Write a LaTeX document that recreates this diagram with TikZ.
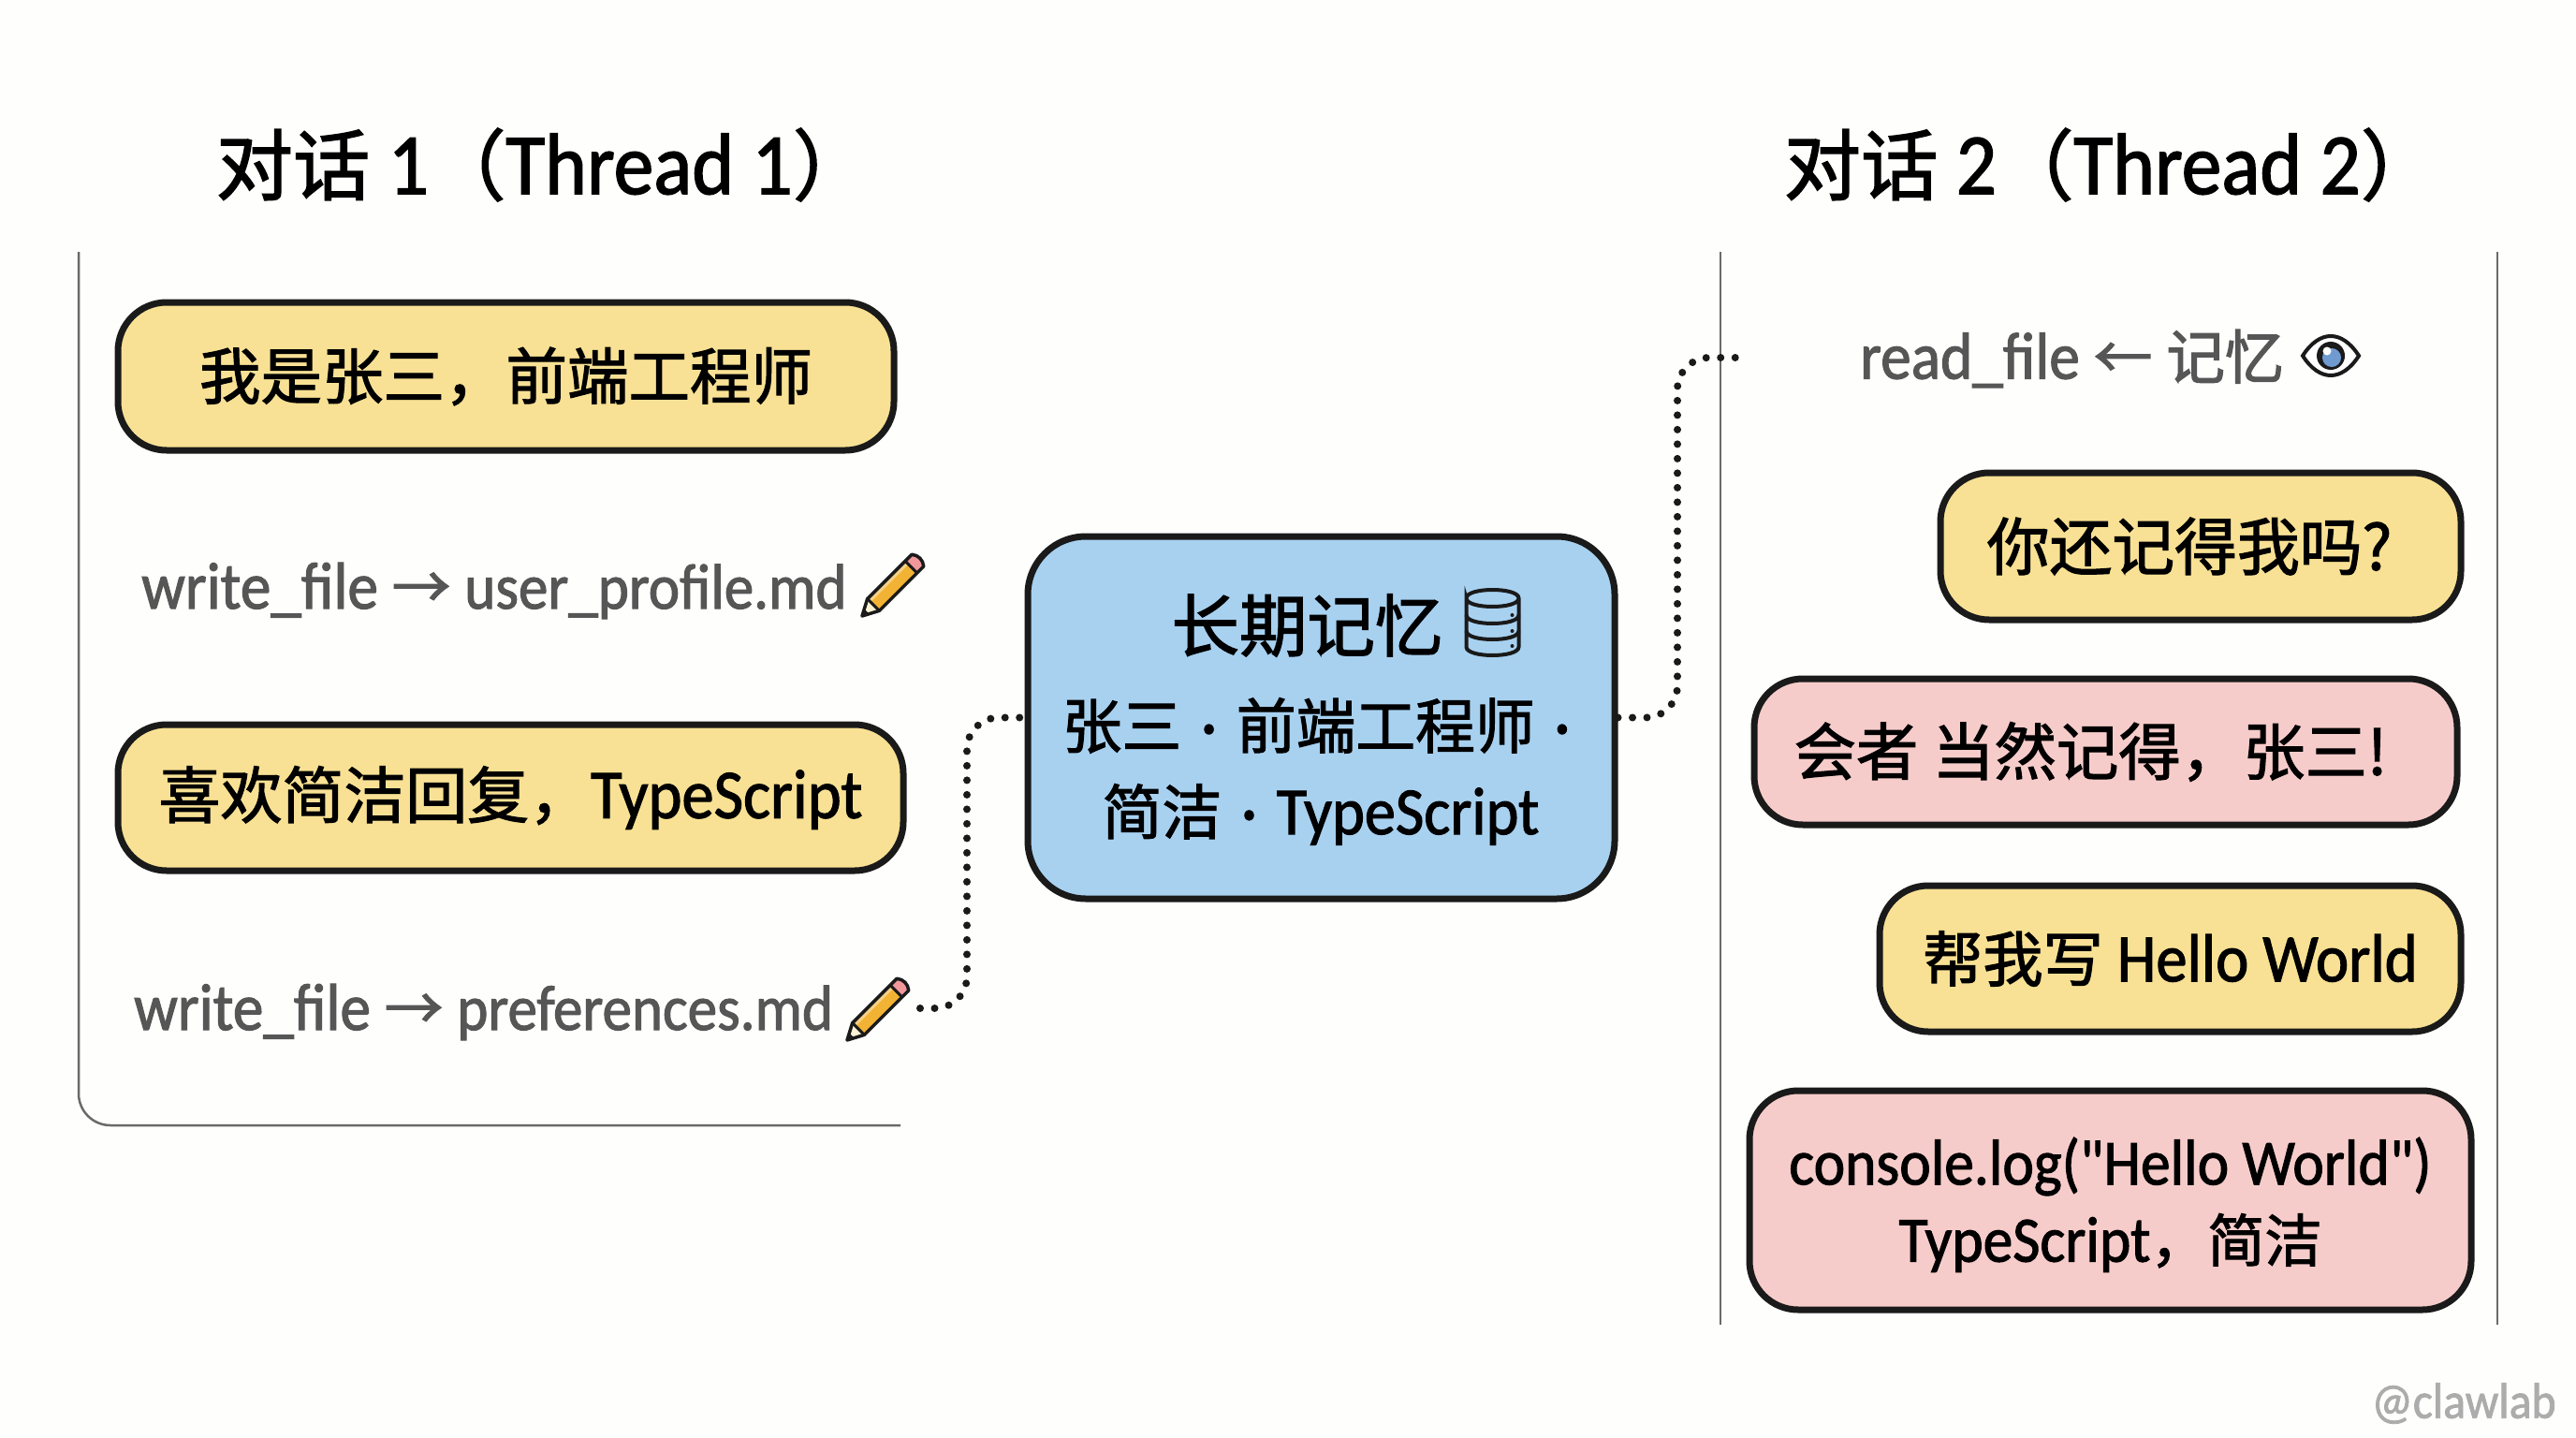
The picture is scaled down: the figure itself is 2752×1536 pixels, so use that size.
\documentclass[tikz,border=0pt]{standalone}
\usepackage{fontspec}
\setmainfont[FakeBold=1.5, FakeStretch=0.92]{Carlito}
\newfontfamily\codefont[FakeBold=1.5, FakeStretch=0.92]{Carlito}
\newfontfamily\cjk[FakeBold=1.8, Scale=0.885]{Noto Sans CJK SC}
\usetikzlibrary{positioning}
\usetikzlibrary{calc}
\definecolor{pagebg}{HTML}{FEFEFD}
\definecolor{inkblack}{HTML}{1A1A1A}
\definecolor{usergold}{HTML}{F8E194}
\definecolor{replypink}{HTML}{F6CCCA}
\definecolor{memoryblue}{HTML}{A8D1F0}
\definecolor{toolgray}{HTML}{565656}
\definecolor{panelgray}{HTML}{6A6A6A}
\definecolor{irisblue}{HTML}{6F9BD1}
\definecolor{penbody}{HTML}{F2B233}
\definecolor{penrubber}{HTML}{F2989C}
\newcommand{\zh}[1]{{\cjk #1}}
\newcommand{\fsize}[1]{\fontsize{#1}{#1}\selectfont}
\newcommand{\dotsep}{\hspace{21pt}·\hspace{21pt}}
\tikzset{
    bubble/.style={draw=inkblack, line width=7pt, rounded corners=52pt, inner sep=0pt, align=center, text=black},
    usermsg/.style={bubble, fill=usergold},
    replymsg/.style={bubble, fill=replypink},
    toolcall/.style={inner sep=0pt, text=toolgray},
    titlelabel/.style={inner sep=0pt, text=black},
    panelline/.style={draw=panelgray, line width=2.5pt},
    dotlink/.style={draw=inkblack, line width=8pt, line cap=round, dash pattern=on 0pt off 15.5pt, rounded corners=34pt},
    pics/pencilicon/.style={code={
        \fill[usergold!40!white] (0,0) -- (17,-9) -- (17,9) -- cycle;
        \fill[inkblack] (0,0) -- (7,-4) -- (7,4) -- cycle;
        \fill[penbody] (17,-9) rectangle (74,9);
        \fill[penbody!60!white] (17,-9) rectangle (74,-4);
        \fill[penrubber] (74,-9) -- (84,-9) to[bend left=40] (84,9) -- (74,9) -- cycle;
        \draw[inkblack, line width=3.5pt, line join=round] (0,0) -- (17,-9) -- (84,-9) to[bend left=40] (84,9) -- (17,9) -- cycle;
        \draw[inkblack, line width=3pt] (17,-9) -- (17,9) (74,-9) -- (74,9);
    }},
    pics/dbicon/.style={code={
        \draw[inkblack, line width=4pt] (-28,-26) .. controls (-28,-38) and (28,-38) .. (28,-26) .. controls (28,-14) and (-28,-14) .. (-28,-26) -- (-28,26) .. controls (-28,38) and (28,38) .. (28,26) -- (28,-26);
        \draw[inkblack, line width=4pt] (-28,-8) .. controls (-28,4) and (28,4) .. (28,-8);
        \draw[inkblack, line width=4pt] (-28,9) .. controls (-28,21) and (28,21) .. (28,9);
        \foreach \yy in {-8,9,25} \fill[inkblack] (21,\yy) circle (2pt);
    }},
    pics/eyeicon/.style={code={
        \draw[inkblack, line width=4pt, fill=white] (-30,0) .. controls (-12,-28) and (12,-28) .. (30,0) .. controls (12,28) and (-12,28) .. (-30,0) -- cycle;
        \fill[inkblack] (0,0) circle (15pt);
        \fill[irisblue] (1,2) circle (10pt);
        \fill[white] (-4,-5) circle (4.5pt);
    }},
}

\begin{document}
\begin{tikzpicture}[x=1pt, y=-1pt]
    \useasboundingbox[fill=pagebg] (0,0) rectangle (2752,1536);

    % titles
    \node [titlelabel] (title1) at (580,176) {\fsize{93}\zh{对话} 1\zh{（}Thread 1\zh{）}};
    \node [titlelabel] (title2) at (2255,176) {\fsize{93}\zh{对话} 2\zh{（}Thread 2\zh{）}};

    % panels
    \draw [panelline, rounded corners=34pt] (84,269) -- (84,1202) -- (962,1202);
    \draw [panelline] (1838,269) -- (1838,1415);
    \draw [panelline] (2668,269) -- (2668,1415);

    % thread 1
    \node [usermsg, minimum width=829pt, minimum height=158pt] (intro) at (540.5,402)
        {\fsize{74}\zh{我是张三，前端工程师}};
    \node [toolcall, anchor=west] (writeprofile) at (151,631)
        {\fsize{71}write\_file \zh{→} \fsize{68.5}user\_profile.md};
    \pic [rotate=45] at (921,658) {pencilicon};
    \node [usermsg, minimum width=839pt, minimum height=156pt] (prefs) at (545.5,852)
        {\fsize{74.5}\raisebox{-4pt}{\zh{喜欢简洁回复，}TypeScript}};
    \node [toolcall, anchor=west] (writeprefs) at (143,1081)
        {\fsize{71}write\_file \zh{→} \fsize{68.5}preferences.md};
    \pic [rotate=45] at (905,1111) {pencilicon};
    \coordinate (pencilend) at (983,1077);

    % memory
    \node [bubble, fill=memoryblue, rounded corners=62pt, minimum width=627pt, minimum height=387pt] (memory) at (1411.5,766.5) {};
    \node [inner sep=0pt] (memtitle) at (1396.5,668) {\fsize{82}\zh{长期记忆}};
    \pic at (1594.5,665) {dbicon};
    \node [inner sep=0pt] (memline1) at (1406,775) {\fsize{72}\zh{张三}\dotsep\zh{前端工程师}\dotsep};
    \node [inner sep=0pt] (memline2) at (1411,870) {\fsize{72}\zh{简洁}\dotsep TypeScript};

    % thread 2
    \node [toolcall, anchor=west] (readmem) at (1987,383)
        {\fsize{71}read\_file \zh{←} \zh{记忆}};
    \pic at (2490,380) {eyeicon};
    \coordinate (readend) at (1862,382);
    \node [usermsg, minimum width=556pt, minimum height=157pt] (askagain) at (2351,583.5)
        {\fsize{75.5}\zh{你还记得我吗?}\hspace*{24pt}};
    \node [replymsg, minimum width=751pt, minimum height=156pt] (answer) at (2249.5,803)
        {\fsize{75}\zh{会者 当然记得，张三!}\hspace*{32pt}};
    \node [usermsg, minimum width=621pt, minimum height=156pt] (askhello) at (2318.5,1024)
        {\fsize{72.5}\zh{帮我写} Hello World};
    \node [replymsg, minimum width=771pt, minimum height=234pt] (code) at (2254.5,1282)
        {\fsize{69}\rule{0pt}{60pt}\codefont console.log("Hello World")\\[18pt]\fsize{69}TypeScript\zh{，简洁}};

    % watermark
    \node [inner sep=0pt, text=gray!65] (mark) at (2632,1499) {\fsize{54}@clawlab};

    % links
    \coordinate (elbowa) at (1033,766.5);
    \coordinate (elbowb) at (1792,382);
    \draw [dotlink] (pencilend) -| (elbowa) -- (memory.west);
    \draw [dotlink] (memory.east) -| (elbowb) -- (readend);
\end{tikzpicture}
\end{document}
